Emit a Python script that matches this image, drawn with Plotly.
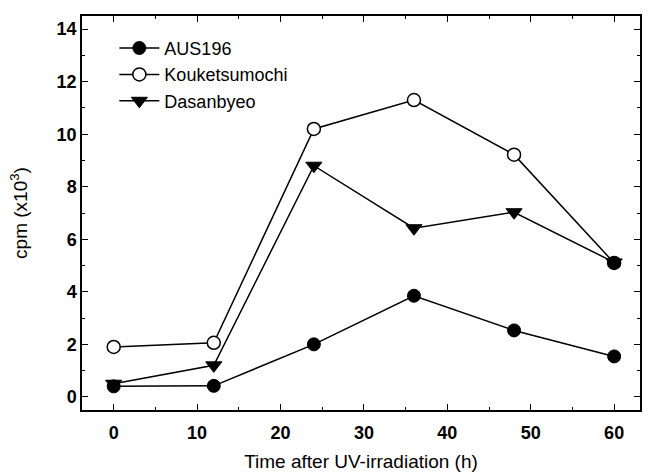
import plotly.graph_objects as go

time_h = [0, 12, 24, 36, 48, 60]
aus196 = [0.4, 0.42, 2.0, 3.85, 2.53, 1.54]
kouketsumochi = [1.9, 2.06, 10.2, 11.3, 9.22, 5.1]
dasanbyeo = [0.5, 1.2, 8.8, 6.42, 7.03, 5.12]

FONT = "Liberation Sans, Arial, sans-serif"

fig = go.Figure()
fig.add_trace(go.Scatter(x=time_h, y=aus196, name="AUS196", mode="lines+markers",
                         line=dict(color="black", width=1.5),
                         marker=dict(symbol="circle", size=13, color="black",
                                     line=dict(color="black", width=1))))
fig.add_trace(go.Scatter(x=time_h, y=kouketsumochi, name="Kouketsumochi", mode="lines+markers",
                         line=dict(color="black", width=1.5),
                         marker=dict(symbol="circle", size=13,
                                     color=["white"] * 5 + ["black"],
                                     line=dict(color="black", width=1.5))))
fig.add_trace(go.Scatter(x=time_h, y=dasanbyeo, name="Dasanbyeo", mode="lines+markers",
                         line=dict(color="black", width=1.5),
                         marker=dict(symbol="triangle-down", size=14, color="black",
                                     line=dict(color="black", width=1))))

axis_common = dict(showline=True, linecolor="black", linewidth=1.5, mirror="allticks",
                   ticks="inside", ticklen=6, tickwidth=1.2, tickcolor="black",
                   showgrid=False, zeroline=False,
                   tickfont=dict(family=FONT, size=18, color="black", weight="bold"))

fig.update_xaxes(range=[-3.8, 63.1], tickvals=[0, 10, 20, 30, 40, 50, 60],
                 minor=dict(tickvals=[5, 15, 25, 35, 45, 55], ticks="inside", ticklen=3,
                            tickcolor="black", tickwidth=1),
                 ticklabelstandoff=6,
                 title=dict(text="Time after UV-irradiation (h)",
                            font=dict(family=FONT, size=19, color="black"), standoff=12),
                 **axis_common)
fig.update_yaxes(range=[-0.5, 14.5], tickvals=[0, 2, 4, 6, 8, 10, 12, 14],
                 minor=dict(tickvals=[1, 3, 5, 7, 9, 11, 13], ticks="inside", ticklen=3,
                            tickcolor="black", tickwidth=1),
                 title=dict(text="cpm (x10<sup>3</sup>)",
                            font=dict(family=FONT, size=19, color="black"), standoff=24),
                 **axis_common)

fig.update_layout(
    width=648, height=475,
    margin=dict(l=82, r=6, t=16, b=63),
    paper_bgcolor="white", plot_bgcolor="white",
    showlegend=True,
    legend=dict(x=0.058, y=0.965, xanchor="left", yanchor="top",
                bgcolor="rgba(0,0,0,0)", borderwidth=0,
                font=dict(family=FONT, size=18, color="black"),
                tracegroupgap=0, itemwidth=40),
)

fig.write_html("out.html")
